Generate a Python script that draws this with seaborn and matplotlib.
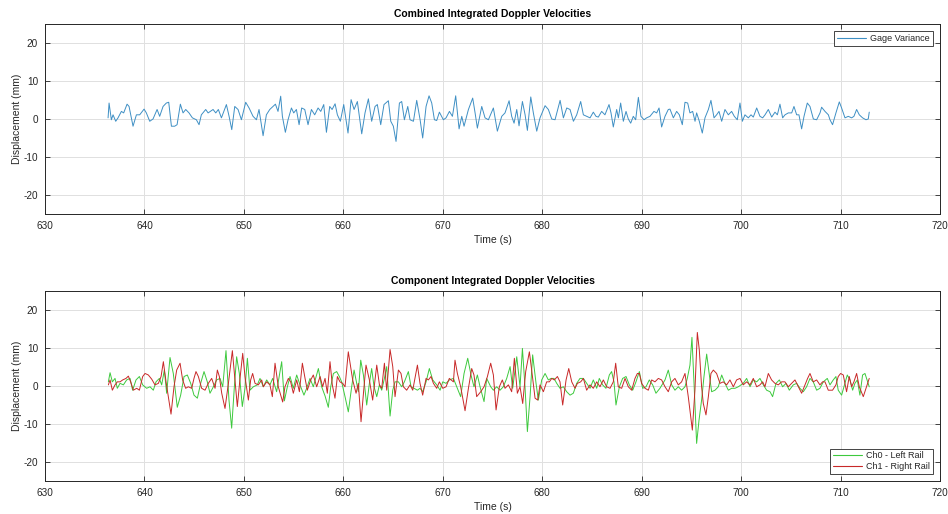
import numpy as np
import pandas as pd
import matplotlib
matplotlib.use("Agg")
import matplotlib.pyplot as plt
import seaborn as sns

# ---------------- data ----------------
gage_t = [636.34, 636.44, 636.67, 636.84, 637.11, 637.34, 637.68, 637.91, 638.25, 638.45,
          638.85, 639.19, 639.52, 639.96, 640.19, 640.53, 640.86, 641.27, 641.53, 641.87,
          642.2, 642.44, 642.71, 643.04, 643.28, 643.61, 643.88, 644.15, 644.48, 644.82,
          645.22, 645.49, 645.72, 646.16, 646.4, 646.9, 647.17, 647.43, 647.74, 648.24,
          648.51, 648.78, 649.08, 649.41, 649.75, 650.18, 650.52, 650.92, 651.26, 651.52,
          651.93, 652.26, 652.6, 652.93, 653.17, 653.43, 653.7, 653.87, 654.17, 654.44,
          654.78, 655.01, 655.28, 655.55, 655.81, 656.12, 656.45, 656.79, 657.12, 657.46,
          657.73, 658.03, 658.3, 658.63, 658.87, 659.17, 659.4, 659.7, 660.04, 660.47,
          660.78, 661.08, 661.41, 661.85, 662.18, 662.52, 662.85, 663.19, 663.42, 663.76,
          664.09, 664.53, 664.77, 665.03, 665.3, 665.64, 665.87, 666.14, 666.48, 666.71,
          667.05, 667.38, 667.72, 667.98, 668.32, 668.62, 668.89, 669.16, 669.39, 669.66,
          670.06, 670.33, 670.67, 670.97, 671.3, 671.64, 671.91, 672.14, 672.58, 673.01,
          673.25, 673.48, 673.92, 674.25, 674.59, 675.09, 675.49, 675.93, 676.26, 676.67,
          676.93, 677.17, 677.44, 677.67, 678.01, 678.28, 678.51, 678.85, 679.11, 679.45,
          679.78, 680.29, 680.62, 680.96, 681.29, 681.8, 682.13, 682.47, 682.8, 683.14,
          683.47, 683.87, 684.14, 684.48, 684.81,
          685.14, 685.41, 685.64, 685.98, 686.31, 686.72, 686.92, 687.15, 687.49, 687.66,
          687.89, 688.16, 688.43, 688.66, 688.9, 689.16, 689.4, 689.67, 689.93, 690.24,
          690.5, 690.84, 691.24, 691.51, 691.75, 692.01, 692.35, 692.68, 692.85, 693.19,
          693.52, 693.79, 694.09, 694.36, 694.63, 694.86, 695.13, 695.37, 695.53, 695.8,
          696.1, 696.37, 696.71, 696.97, 697.28, 697.54, 697.78, 698.05, 698.38, 698.72,
          699.05, 699.32, 699.62, 699.89, 700.13, 700.39, 700.73, 701.0, 701.23, 701.57,
          701.9, 702.17, 702.41, 702.74, 703.08, 703.41, 703.65, 703.91, 704.18, 704.42,
          704.75, 705.09, 705.32, 705.59, 705.82, 706.09, 706.33, 706.66, 706.93, 707.27,
          707.6, 707.94, 708.1, 708.44, 708.78,
          708.94, 709.2, 709.54, 709.88, 710.11, 710.45, 710.78, 711.12, 711.35, 711.62,
          711.89, 712.22, 712.56, 712.79, 712.89]
gage_v = [0.3, 4.2, -0.2, 1.1, -0.6, 0.3, 2.0, 1.6, 3.9, 3.3,
          -1.9, 1.1, 1.1, 2.6, 1.6, -0.6, 0.0, 2.5, 0.7, 3.3,
          4.2, 4.4, -1.9, -1.9, -1.5, 3.9, 1.6, 2.5, 1.6, 0.3,
          -0.2, -1.5, 1.1, 2.5, 1.6, 2.5, 1.6, 2.5, 0.3, 3.8,
          0.7, -2.8, 3.3, 2.5, -0.2, 4.4, 2.9, 0.7, -0.2, 2.5,
          -4.4, 1.1, 2.5, 3.3, 3.9, 2.0, 6.0, 0.7, -3.5, -0.2,
          2.9, 1.6, 2.5, -1.5, 2.9, 2.5, -1.5, 2.5, 1.1, 2.9,
          2.0, 3.8, -3.5, 3.3, 2.5, 4.0, 1.1, -0.6, 3.8, -3.7,
          5.1, 2.5, 4.6, -3.9, 1.6, 5.3, -0.6, 3.3, 3.8, -1.5,
          3.8, 4.8, -0.6, -1.9, -5.9, 4.2, 4.6, -0.2, 3.3, -0.2,
          -0.6, 4.9, -0.2, -5.0, 3.3, 6.1, 4.2, -0.2, -0.4, 1.8,
          -0.2, 0.3, 2.0, 0.7, 6.1, -2.6, 0.7, -1.9, 2.5, 5.5,
          1.6, -2.4, 3.3, 0.3, -0.2, 2.9, -3.2, 0.7, 1.6, 4.8,
          0.7, -1.1, 2.5, -1.8, 4.6, 1.1, -3.0, 5.8, 1.6, -3.2,
          0.3, 3.5, 2.5, 0.0, -0.2, 4.9, 0.3, 2.9, 2.5, -0.6,
          1.1, 4.6, 1.1, 0.7, 0.3,
          1.8, 0.7, 0.5, 2.0, 1.1, 3.8, 1.6, -2.1, 2.5, 0.3,
          4.2, -0.6, 2.0, 0.0, -1.1, 0.7, -0.2, 5.7, 0.7, -0.2,
          0.3, 0.7, 2.0, 1.6, 2.9, -2.1, 0.7, 2.5, 2.6, 0.3,
          2.0, 1.1, -1.5, 4.4, 4.2, 1.6, 2.0, -0.6, 1.6, -0.6,
          -3.7, 0.3, 2.5, 4.9, 0.3, 1.1, 2.0, -0.6, 2.5, 1.1,
          2.0, 0.7, -0.2, 4.2, -0.6, 1.1, 0.3, 1.1, 0.5, 2.9,
          0.7, 0.3, 1.1, 2.5, 0.5, 1.8, 1.1, 3.9, 0.3, 1.1,
          1.6, 1.6, 3.3, 1.1, 1.1, -2.6, 0.7, 4.2, 3.3, 0.0,
          -0.2, 1.6, 3.1, 2.0, 1.1,
          -0.2, -1.5, 1.6, 4.5, 2.9, 0.3, 0.7, 0.3, 0.7, 2.5,
          1.1, 0.3, -0.2, 0.0, 1.8]

ch0_t = [636.37, 636.54, 636.77, 637.04, 637.27, 637.54, 637.88, 638.21, 638.55, 638.81,
         639.15, 639.49, 639.82, 640.22, 640.56, 640.89, 641.16, 641.5, 641.73, 642.0,
         642.23, 642.57, 642.9, 643.3, 643.64, 643.98, 644.31, 644.65, 644.98, 645.32,
         645.65, 645.99, 646.32, 646.59, 646.93, 647.26, 647.6, 647.87, 648.2, 648.5,
         648.77, 649.04, 649.27, 649.54, 649.84, 650.11, 650.35, 650.61, 650.95, 651.35,
         651.62, 651.95, 652.29, 652.62, 652.89, 653.29, 653.8, 654.07, 654.37, 654.64,
         654.97, 655.31, 655.64, 656.04, 656.31, 656.65, 656.98, 657.49, 657.82, 658.16,
         658.49, 658.73, 659.0, 659.33, 659.6, 659.83, 660.17, 660.5,
         660.84, 661.08, 661.35, 661.51, 661.75, 662.02, 662.35, 662.62, 662.85, 663.09,
         663.36, 663.63, 663.86, 664.13, 664.36, 664.7, 664.97, 665.2, 665.54, 665.87,
         666.14, 666.54, 666.81, 667.11, 667.45, 667.71, 667.98, 668.32, 668.65, 668.99,
         669.39, 669.73, 670.0, 670.33, 670.66, 671.07, 671.47, 671.8, 672.14, 672.51,
         672.84, 673.14, 673.48, 673.75, 674.15, 674.42, 674.82, 675.09, 675.42, 675.76,
         676.09, 676.43, 676.77, 677.03, 677.44, 677.77, 678.01, 678.27, 678.51, 678.78,
         679.04, 679.38, 679.61, 679.95, 680.29, 680.62, 680.89, 681.19, 681.46, 681.79,
         682.13, 682.46, 682.8, 683.13, 683.47, 683.8, 684.14, 684.47, 684.81,
         685.14, 685.48, 685.74, 686.08, 686.41, 686.75, 686.98, 687.22, 687.42, 687.76,
         688.09, 688.43, 688.76, 689.1, 689.43, 689.77, 690.1, 690.44, 690.77, 691.11,
         691.44, 691.84, 692.35, 692.68, 693.02, 693.35, 693.69, 694.02, 694.36, 694.59,
         694.86, 695.06, 695.3, 695.53, 695.77, 696.03, 696.27, 696.54, 696.81, 697.04,
         697.38, 697.71, 698.05, 698.38, 698.72, 699.05, 699.39, 699.72, 700.22, 700.56,
         700.9, 701.23, 701.57, 701.9, 702.24, 702.57, 702.91, 703.17, 703.51, 703.85,
         704.18, 704.52, 704.85, 705.25, 705.59, 705.92, 706.26, 706.59, 706.93, 707.26,
         707.6, 707.93, 708.27, 708.67, 708.94,
         709.27, 709.54, 709.77, 710.11, 710.45, 710.68, 710.95, 711.22, 711.45, 711.69,
         711.95, 712.22, 712.46, 712.62, 712.89]
ch0_v = [1.1, 3.5, 1.1, 2.0, -0.6, 0.7, 0.3, 1.6, 2.0, -1.1,
         1.6, 2.5, 0.3, -0.6, -0.2, -1.1, 1.1, 2.0, 0.3, 4.2,
         -1.9, 7.5, 3.3, -5.6, -2.4, 2.5, 2.9, 0.7, -2.4, -3.2,
         0.7, 3.8, 1.1, -1.9, -0.2, 1.6, 2.0, -0.2, 9.3, -3.7,
         -11.1, -0.2, 7.7, 3.3, -5.4, -0.6, 7.3, -1.1, -0.2, 0.3,
         2.0, -0.2, 1.6, 0.3, 2.0, -1.5, 6.4, -3.9, -0.2, 2.5,
         -0.6, 2.9, 0.3, -2.4, -0.6, 2.0, -0.2, 4.6, -0.2, -2.6,
         -5.6, -0.2, 3.3, 3.8, 2.5, 1.1, -2.8, -6.8,
         -0.2, 4.2, 0.7, -1.5, 6.8, 2.9, -5.0, 0.7, 4.6, -0.2,
         -2.8, 0.3, -1.1, 2.0, 5.1, -7.9, -1.1, 1.1, 1.1, -0.2,
         1.1, 3.8, -0.2, -0.6, -1.1, -0.6, -1.5, 1.1, 4.6, 1.6,
         0.3, -1.1, 1.1, 0.7, 1.6, 2.0, -0.6, -2.8, 3.3, 7.3,
         2.9, -0.2, 2.9, -0.2, -4.1, 2.0, -0.2, -1.1, -0.2, -1.1,
         -0.2, 2.0, 5.1, -0.6, 7.7, -0.2, 9.9, -0.2, -12.0, -2.8,
         8.2, 0.7, -3.7, 1.6, 3.3, 1.6, 2.0, 2.0, 0.7, -0.6,
         -0.2, -1.5, -2.4, -1.9, 0.7, 2.0, 2.0, 0.7, -0.6,
         1.6, -0.6, 2.0, 0.3, -0.6, 2.9, 3.8, 1.1, -5.0, -0.2,
         2.0, 2.5, 0.3, -1.1, 1.1, 3.8, -0.6, -0.2, 1.6, 0.3,
         -1.9, -0.6, 1.6, 4.2, 0.3, -1.1, -0.2, -1.1, -0.2, 2.0,
         5.5, 12.8, -1.1, -15.1, -9.0, -3.7, 2.5, 8.4, 2.9, -1.5,
         -1.1, -0.2, 2.9, 0.7, -1.1, -0.6, -0.6, -0.2, 0.7, 2.0,
         -0.2, 1.6, 1.1, 2.0, 0.3, -1.1, -1.5, -2.8, 0.7, 1.6,
         -0.2, 0.7, -1.1, 0.3, 0.7, -0.6, -1.5, -0.2, 2.0, 1.1,
         -1.1, -0.6, 1.1, 2.0, 0.3,
         1.6, 2.5, -1.1, -2.4, 0.7, 2.9, 1.6, -1.1, 0.7, 1.6,
         -2.4, 2.9, 3.3, 2.0, -0.2]

ch1_t = [636.37, 636.54, 636.77, 637.04, 637.27, 637.54, 637.81, 638.14, 638.38, 638.61,
         638.88, 639.22, 639.49, 639.82, 640.06, 640.39, 640.73, 641.06, 641.4, 641.67,
         641.9, 642.17, 642.4, 642.67, 642.97, 643.24, 643.58, 643.84, 644.14, 644.41,
         644.75, 644.98, 645.18, 645.42, 645.75, 646.09, 646.42, 646.76, 647.1, 647.33,
         647.53, 647.77, 648.1, 648.44, 648.84, 649.04, 649.34, 649.61, 649.88, 650.11,
         650.45, 650.68, 650.88, 651.12, 651.45, 651.79, 651.95, 652.29, 652.62, 652.86,
         653.13, 653.46, 653.9, 654.13, 654.47, 654.7, 654.97, 655.31, 655.58, 655.88,
         656.15, 656.38, 656.72, 656.98, 657.32, 657.66, 657.92, 658.16, 658.39, 658.66,
         658.89, 659.16, 659.4, 659.66, 659.93, 660.17, 660.5,
         660.94, 661.28, 661.51, 661.78, 662.08, 662.28, 662.62, 662.95, 663.36, 663.63,
         663.86, 664.13, 664.36, 664.7, 664.97, 665.2, 665.54, 665.8, 666.04, 666.37,
         666.71, 666.98, 667.45, 667.71, 667.98, 668.32, 668.55, 668.82, 669.06, 669.39,
         669.66, 670.0, 670.33, 670.66, 671.07, 671.23, 671.47, 671.8, 672.24, 672.58,
         672.91, 673.14, 673.41, 673.82, 674.15, 674.49, 674.82, 675.09, 675.36, 675.69,
         675.99, 676.26, 676.6, 676.93, 677.2, 677.5, 677.77, 678.04, 678.34, 678.71,
         678.94, 679.28, 679.55, 679.78, 680.12, 680.45, 680.72, 680.96, 681.22, 681.53,
         681.79, 682.06, 682.4, 682.67, 682.97, 683.3, 683.54, 683.87, 684.14, 684.47,
         684.81,
         685.14, 685.48, 685.81, 686.15, 686.48, 686.82, 687.15, 687.39, 687.65, 687.99,
         688.33, 688.66, 689.0, 689.33, 689.57, 689.77, 690.0, 690.34, 690.67, 691.01,
         691.34, 691.68, 692.01, 692.35, 692.68, 693.02, 693.35, 693.69, 694.02, 694.36,
         694.69, 695.1, 695.36, 695.6, 695.8, 696.03, 696.2, 696.47, 696.71, 696.97,
         697.21, 697.54, 697.88, 698.21, 698.55, 698.88, 699.22, 699.55, 699.89, 700.22,
         700.56, 700.9, 701.23, 701.57, 701.9, 702.17, 702.4, 702.74, 703.07, 703.41,
         703.74, 704.08, 704.41, 704.75, 705.09, 705.42, 705.76, 706.09, 706.43, 706.69,
         706.93, 707.26, 707.6, 707.93, 708.2, 708.44, 708.77,
         709.2, 709.54, 709.77, 710.01, 710.28, 710.61, 710.88, 711.12, 711.35, 711.62,
         711.89, 712.29, 712.62, 712.89]
ch1_v = [0.3, 1.6, -1.1, 0.3, 1.1, 1.1, 1.6, 2.0, 2.6, 1.1,
         -1.1, -0.6, -1.1, 2.5, 3.3, 2.9, 1.8, 0.3, 0.7, 2.5,
         6.4, 1.1, -2.8, -7.4, -0.2, 4.2, 6.0, 1.6, -0.6, -0.2,
         -0.6, 2.0, 3.8, 2.5, -0.6, -1.1, 0.7, 2.0, -0.6, 4.2,
         2.5, -1.9, -5.9, 0.7, 9.3, 3.3, -5.4, 2.0, 8.6, 2.5,
         -3.7, 1.6, 3.3, 0.7, 0.3, 1.6, -0.2, 1.1, 0.3, -2.8,
         6.0, -0.2, -4.2, -0.2, 2.0, 1.1, -1.9, 1.6, -1.5, 6.0,
         2.0, -1.1, 1.6, 2.9, -0.2, 2.5, -0.2, 2.0, -1.9, 6.4,
         0.3, -3.2, 2.5, 1.1, 0.7, -0.2, 9.0,
         1.6, -1.9, 0.7, -9.4, -0.2, 5.5, 1.6, -3.7, 5.5, 0.3,
         -0.6, 6.0, -1.1, 9.6, 5.1, -2.8, 4.2, 3.3, -0.2, -1.1,
         0.3, -1.1, 5.5, 0.7, -2.4, 2.0, 1.6, 2.5, 0.7, -0.6,
         1.1, -0.6, -0.2, 2.0, 1.1, 6.8, 3.3, -0.2, -6.5, -0.6,
         4.6, 2.9, -2.8, -1.5, -0.2, 2.5, 6.0, 2.9, -6.3, -0.2,
         1.6, -0.6, 0.3, -1.5, 7.3, -1.9, -0.2, -4.6, 3.8, 9.0,
         4.2, -3.2, -3.7, 0.3, -1.5, 1.1, 1.1, 2.0, 1.6, 2.5,
         1.1, -5.0, 1.6, 4.6, 1.1, -0.6, 0.7, 1.1, 2.0, -1.1,
         0.3,
         -0.6, 1.1, -0.2, 1.6, -0.2, -0.6, 1.1, 6.0, -0.2, -0.6,
         2.0, -0.2, -1.1, 2.0, 3.3, 3.3, 0.7, -0.6, -1.1, 1.6,
         1.1, 2.0, 1.6, -0.2, -1.5, 1.1, 2.0, 0.3, 1.1, 3.3,
         -2.8, -11.6, -1.1, 14.1, 9.5, -0.2, -4.6, -7.6, -2.8, 3.3,
         4.2, 3.3, 0.7, 1.1, 0.3, 1.6, -0.2, 1.6, 2.0, 0.3,
         1.1, 0.3, 2.0, -0.2, 0.3, 1.1, -0.2, 3.3, 1.6, 0.7,
         0.3, 1.1, 1.1, -0.2, 0.7, 1.6, -0.2, -1.9, 0.3, 2.0,
         3.3, 1.1, 1.6, 0.3, 1.1, 1.1, -1.1,
         -1.1, 0.3, 2.5, 3.3, 2.9, -1.5, 2.5, -0.2, 1.1, 3.3,
         -0.2, -2.8, -0.2, 2.0]

x_ticks = [630, 640, 650, 660, 670, 680, 690, 700, 710, 720]
y_ticks = [-20, -10, 0, 10, 20]
x_range = (630, 720)
y_range = (-25, 25)

top_title = "Combined Integrated Doppler Velocities"
bottom_title = "Component Integrated Doppler Velocities"
top_names = ["Gage Variance"]
bottom_names = ["Ch0 - Left Rail", "Ch1 - Right Rail"]
colors = {"Gage Variance": "#3E8FC4", "Ch0 - Left Rail": "#3DC93D", "Ch1 - Right Rail": "#C82828"}

# ---------------- figure ----------------
sns.set_theme(style="whitegrid")
plt.rcParams['font.family'] = ['Liberation Sans', 'DejaVu Sans']
plt.rcParams['axes.unicode_minus'] = False

fig = plt.figure(figsize=(9.48, 5.14), dpi=100)
ax1 = fig.add_axes([0.0475, 0.5837, 0.944, 0.3696])
ax2 = fig.add_axes([0.0475, 0.0642, 0.944, 0.3696])

top_df = pd.DataFrame({"Time": gage_t, "Displacement": gage_v, "Series": top_names[0]})
bot_df = pd.concat([
    pd.DataFrame({"Time": ch0_t, "Displacement": ch0_v, "Series": bottom_names[0]}),
    pd.DataFrame({"Time": ch1_t, "Displacement": ch1_v, "Series": bottom_names[1]}),
], ignore_index=True)

sns.lineplot(data=top_df, x="Time", y="Displacement", hue="Series",
             palette={k: colors[k] for k in top_names}, estimator=None, sort=False,
             linewidth=0.7, ax=ax1)
sns.lineplot(data=bot_df, x="Time", y="Displacement", hue="Series",
             palette={k: colors[k] for k in bottom_names}, estimator=None, sort=False,
             linewidth=0.7, ax=ax2)

edge = "#262626"
for ax, title, loc in [(ax1, top_title, "upper right"), (ax2, bottom_title, "lower right")]:
    ax.set_facecolor("white")
    ax.set_xlim(*x_range)
    ax.set_ylim(*y_range)
    ax.set_xticks(x_ticks)
    ax.set_yticks(y_ticks)
    ax.grid(True, color="#e0e0e0", linewidth=0.7)
    for s in ax.spines.values():
        s.set_visible(True)
        s.set_color(edge)
        s.set_linewidth(0.7)
    ax.tick_params(axis="both", which="major", direction="in", length=3.5, width=0.6,
                   color=edge, labelcolor=edge, labelsize=7.2, pad=5,
                   top=True, right=True, bottom=True, left=True)
    ax.set_xlabel("Time (s)", fontsize=7.5, color=edge, labelpad=3)
    ax.set_ylabel("Displacement (mm)", fontsize=7.5, color=edge, labelpad=1)
    ax.set_title(title, fontsize=7.5, fontweight="bold", color="black", pad=5)
    leg = ax.legend(loc=loc, fontsize=6.5, frameon=True, fancybox=False, framealpha=1,
                    edgecolor=edge, handlelength=3.2, handletextpad=0.5,
                    borderpad=0.3, labelspacing=0.2, borderaxespad=0.8)
    leg.get_frame().set_linewidth(0.6)
    for line in leg.get_lines():
        line.set_linewidth(0.8)

fig.savefig("out.png", dpi=100, facecolor="white")
